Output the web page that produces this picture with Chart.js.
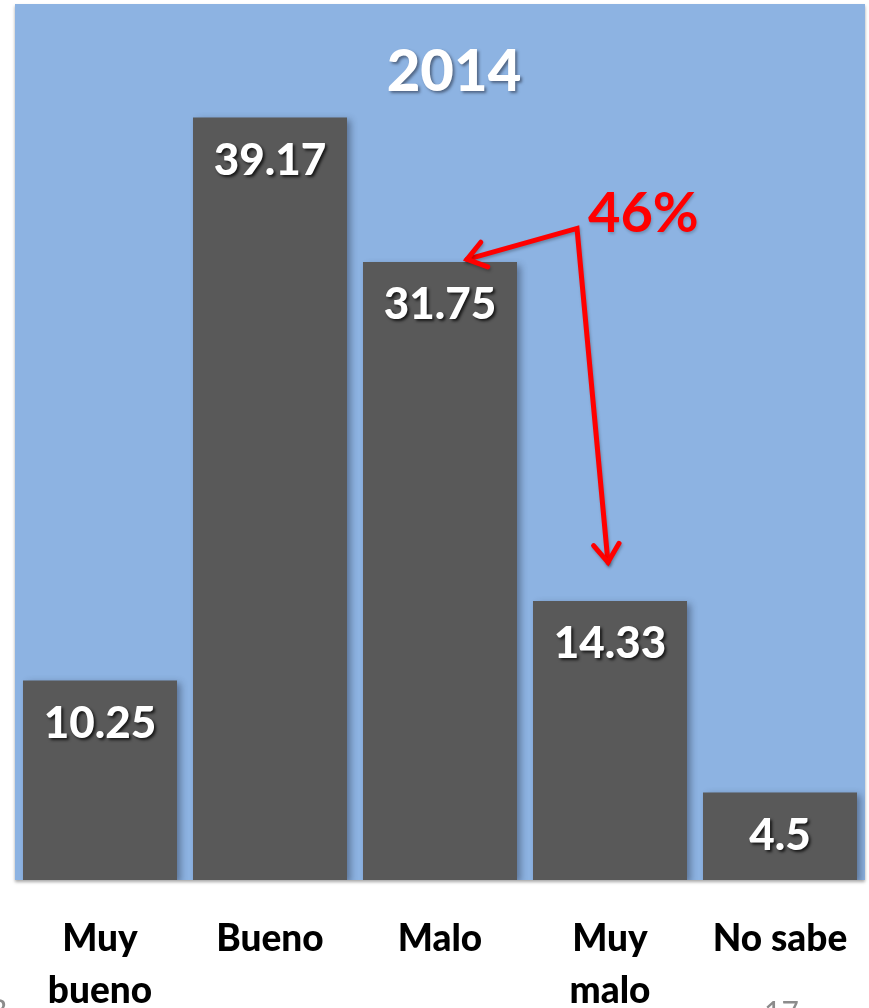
<!DOCTYPE html>
<html>
<head>
<meta charset="utf-8">
<script src="https://cdn.jsdelivr.net/npm/chart.js"></script>
<style>
  html, body { margin: 0; padding: 0; background: #ffffff; overflow: hidden; }
  #wrap { width: 869px; height: 1008px; position: relative; }
  #chart { display: block; }
</style>
</head>
<body>
<div id="wrap"><canvas id="chart"></canvas></div>
<script>
// data
const categories = [['Muy', 'bueno'], 'Bueno', 'Malo', ['Muy', 'malo'], 'No sabe'];
const values = [10.25, 39.17, 31.75, 14.33, 4.5];
const chartTitle = '2014';
const calloutText = '46%';

const FONT = 'Lato, "Open Sans", sans-serif';

// start: plot background + bar shadow
const plotBackground = {
    id: 'plotBackground',
    beforeDraw(chart) {
        const { ctx, chartArea: a } = chart;
        ctx.save();
        ctx.shadowColor = 'rgba(0,0,0,0.35)';
        ctx.shadowOffsetY = 2;
        ctx.shadowBlur = 3;
        ctx.fillStyle = '#8DB3E2';
        ctx.fillRect(a.left, a.top, a.right - a.left, a.bottom - a.top);
        ctx.restore();
    },
    beforeDatasetsDraw(chart) {
        const ctx = chart.ctx;
        ctx.save();
        ctx.shadowColor = 'rgba(30,40,60,0.45)';
        ctx.shadowOffsetX = 4;
        ctx.shadowOffsetY = 3;
        ctx.shadowBlur = 7;
    },
    afterDatasetsDraw(chart) {
        chart.ctx.restore();
    }
}
// end: plot background

// start: labels, title, callout
const overlay = {
    id: 'overlay',
    afterDraw(chart) {
        const { ctx, chartArea: a } = chart;
        const x = chart.scales.x;
        const y = chart.scales.y;
        const meta = chart.getDatasetMeta(0);

        // value labels inside the bars
        ctx.save();
        ctx.font = '900 44px ' + FONT;
        ctx.fillStyle = '#ffffff';
        ctx.textAlign = 'center';
        ctx.textBaseline = 'middle';
        ctx.shadowColor = 'rgba(0,0,0,0.75)';
        ctx.shadowOffsetX = 2;
        ctx.shadowOffsetY = 2;
        ctx.shadowBlur = 3;
        meta.data.forEach(function (bar, i) {
            ctx.fillText(String(values[i]), bar.x, bar.y + 43);
        });

        // title
        ctx.font = '900 58px ' + FONT;
        ctx.shadowColor = 'rgba(40,50,70,0.6)';
        ctx.fillText(chartTitle, (a.left + a.right) / 2 + 14, a.top + 68);
        ctx.restore();

        // callout arrows
        const start = { x: x.getPixelForValue(2.806), y: y.getPixelForValue(33.47) };
        const tips = [
            { x: x.getPixelForValue(2.159), y: y.getPixelForValue(31.88) },
            { x: x.getPixelForValue(2.988), y: y.getPixelForValue(16.32) }
        ];
        ctx.save();
        ctx.strokeStyle = '#FF0000';
        ctx.lineWidth = 5;
        ctx.lineCap = 'round';
        ctx.lineJoin = 'miter';
        ctx.shadowColor = 'rgba(0,0,0,0.25)';
        ctx.shadowOffsetX = 1;
        ctx.shadowOffsetY = 2;
        ctx.shadowBlur = 3;
        ctx.beginPath();
        ctx.moveTo(tips[0].x, tips[0].y);
        ctx.lineTo(start.x, start.y);
        ctx.lineTo(tips[1].x, tips[1].y);
        ctx.stroke();
        tips.forEach(function (t) {
            const ang = Math.atan2(t.y - start.y, t.x - start.x);
            const len = 22;
            ctx.beginPath();
            ctx.moveTo(t.x - len * Math.cos(ang - 0.62), t.y - len * Math.sin(ang - 0.62));
            ctx.lineTo(t.x, t.y);
            ctx.lineTo(t.x - len * Math.cos(ang + 0.62), t.y - len * Math.sin(ang + 0.62));
            ctx.stroke();
        });

        ctx.font = 'bold 56px ' + FONT;
        ctx.fillStyle = '#FF0000';
        ctx.textAlign = 'left';
        ctx.textBaseline = 'middle';
        ctx.shadowColor = 'rgba(0,0,0,0.2)';
        ctx.fillText(calloutText, x.getPixelForValue(2.87), y.getPixelForValue(34.24));
        ctx.restore();

        // slide leftovers at the bottom edge
        ctx.save();
        ctx.font = '30px ' + FONT;
        ctx.fillStyle = '#8c8c8c';
        ctx.textBaseline = 'top';
        ctx.fillText('17', 764, 998);
        ctx.fillText('B', -12, 996);
        ctx.restore();
    }
}
// end: overlay

new Chart(document.getElementById('chart'), {
    type: 'bar',
    data: {
        labels: categories,
        datasets: [
            {
                data: values,
                backgroundColor: '#595959',
                borderWidth: 0,
                barPercentage: 0.906,
                categoryPercentage: 1
            }
        ]
    },
    options: {
        responsive: true,
        maintainAspectRatio: false,
        animation: false,
        devicePixelRatio: 1,
        layout: {
            padding: { left: 15, right: 4, top: 4, bottom: 0 }
        },
        plugins: {
            legend: { display: false },
            tooltip: { enabled: false },
            title: { display: false }
        },
        scales: {
            y: {
                display: false,
                min: 0,
                max: 45
            },
            x: {
                grid: { display: false, drawTicks: false },
                border: { display: false },
                ticks: {
                    color: '#000000',
                    padding: 33,
                    maxRotation: 0,
                    autoSkip: false,
                    font: { family: FONT, size: 37, weight: '900', lineHeight: 1.4 }
                },
                afterFit: function (scale) {
                    // fixed band under the plot, and no side padding from the labels
                    scale.height = 128;
                    scale.paddingLeft = 0;
                    scale.paddingRight = 0;
                }
            }
        }
    },
    plugins: [plotBackground, overlay]
});
</script>
</body>
</html>
